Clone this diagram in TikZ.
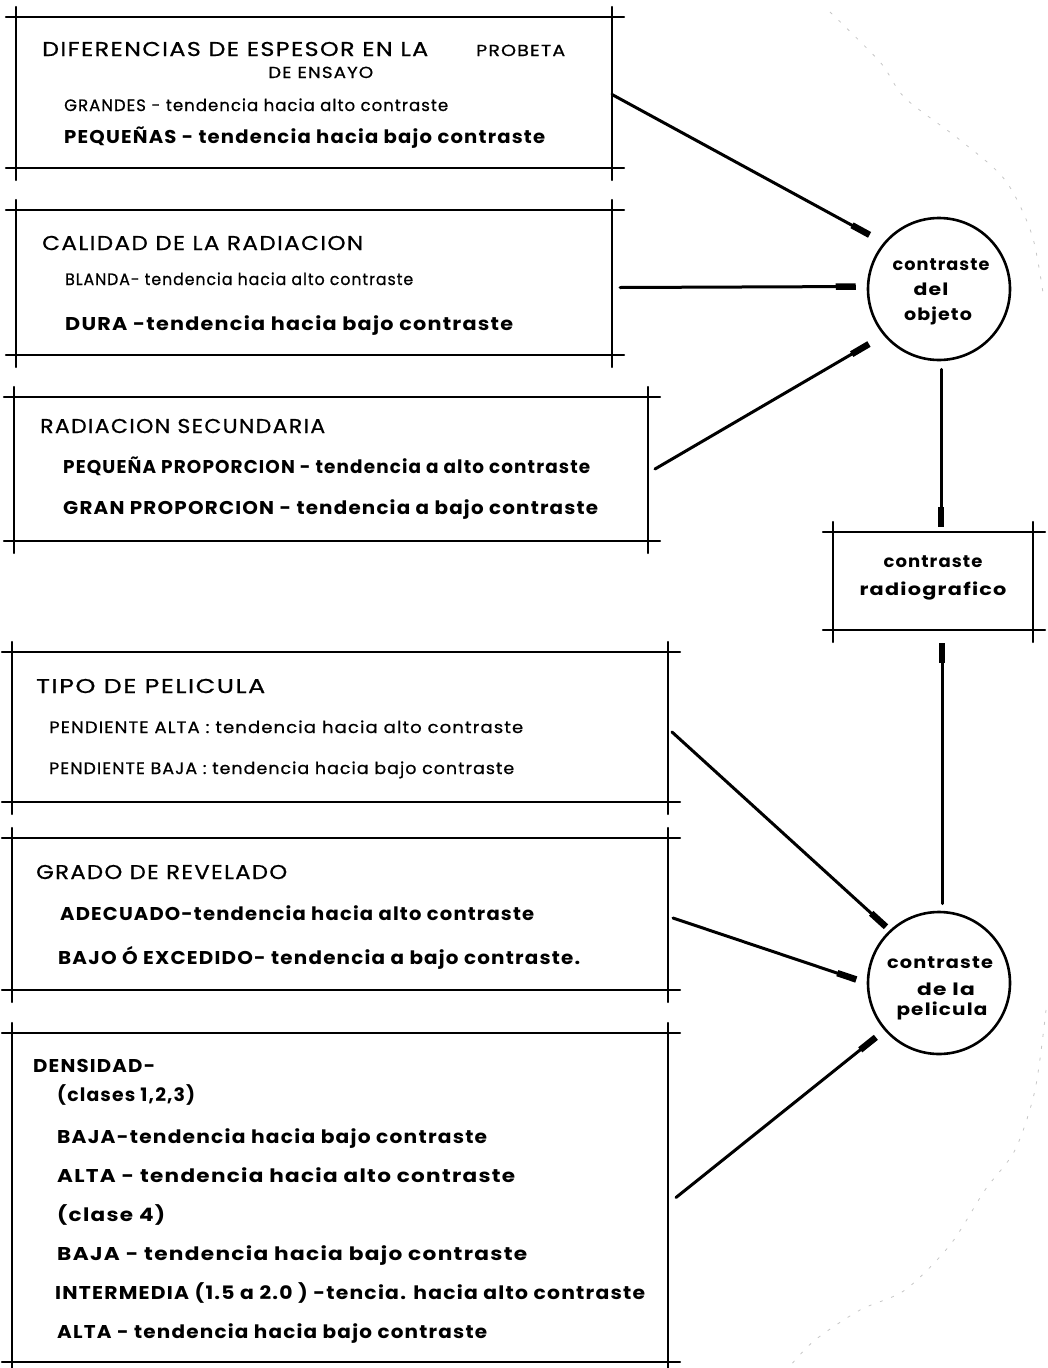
\documentclass[tikz,border=0pt]{standalone}
\usepackage{fontspec}
\setmainfont{Poppins}[LetterSpace=6]
\newfontfamily\medf{Poppins}[LetterSpace=6, FakeBold=0.7]
\usepackage{graphicx}
\usetikzlibrary{arrows.meta,calc}
\newlength\fitlen
\newcommand\fitw[2]{\settowidth\fitlen{#2}\scalebox{\fpeval{(#1pt)/(\the\fitlen)}}[1]{#2}}
\newcommand\crosses[1]{%
  \draw[frameline] ([xshift=-10pt]#1.north west) -- ([xshift=12pt]#1.north east)
    ([xshift=-10pt]#1.south west) -- ([xshift=12pt]#1.south east)
    ([yshift=10pt]#1.north west) -- ([yshift=-12pt]#1.south west)
    ([yshift=10pt]#1.north east) -- ([yshift=-12pt]#1.south east);}
\tikzset{
  frameline/.style={line width=2.4pt, line cap=round},
  frame/.style={draw, line width=2.4pt, inner sep=0pt, outer sep=0pt},
  ring/.style={draw, circle, line width=2.6pt, inner sep=0pt, minimum size=142pt},
  conn/.style={line width=3pt, line cap=round, -{Rectangle[length=20pt,width=6.5pt]}},
  txt/.style={anchor=base west, inner sep=0pt, font=\medf\fontsize{20}{22}\selectfont},
  sm/.style={txt, font=\medf\fontsize{16.5}{18}\selectfont},
  bt/.style={txt, font=\fontsize{18.5}{20}\selectfont\bfseries},
  ctxt/.style={anchor=base, inner sep=0pt, font=\fontsize{17}{19}\selectfont\bfseries},
  ghost/.style={gray!45, line width=0.8pt, dash pattern=on 3pt off 9pt}
}
\begin{document}
\begin{tikzpicture}[x=1pt,y=-1pt]
\useasboundingbox (0,0) rectangle (1047,1368);
% faint arc (scan artefact)
\draw[ghost] plot[smooth] coordinates {(830,12) (880,62) (905,98) (960,140) (1005,180) (1032,235) (1044,300)};
\draw[ghost] plot[smooth] coordinates {(1046,1010) (1035,1090) (1015,1150) (985,1190) (950,1245) (905,1290) (860,1310) (815,1340) (790,1366)};
% boxes
\node[frame, minimum width=596pt, minimum height=151pt] (b1) at (314,92.5) {};
\node[frame, minimum width=596pt, minimum height=145pt] (b2) at (314,282.5) {};
\node[frame, minimum width=634pt, minimum height=144pt] (b3) at (331,469) {};
\node[frame, minimum width=200pt, minimum height=98pt] (rb) at (933,581) {};
\node[frame, minimum width=656pt, minimum height=150pt] (b4) at (340,727) {};
\node[frame, minimum width=656pt, minimum height=152pt] (b5) at (340,914) {};
\node[frame, minimum width=656pt, minimum height=329pt] (b6) at (340,1197.5) {};
\crosses{b1}\crosses{b2}\crosses{b3}\crosses{rb}\crosses{b4}\crosses{b5}\crosses{b6}
% circles
\node[ring] (c1) at (939,289) {};
\node[ring] (c2) at (939,983) {};
% texts box 1
\node[txt] (t1a) at (42,56) {\fitw{386}{DIFERENCIAS DE ESPESOR EN LA}};
\node[txt, font=\medf\fontsize{16}{18}\selectfont] (t1b) at (476,56) {\fitw{89}{PROBETA}};
\node[txt, font=\medf\fontsize{16}{18}\selectfont] (t1c) at (268,78) {\fitw{105}{DE ENSAYO}};
\node[sm] (t1d) at (64,111) {\fitw{384}{GRANDES - tendencia hacia alto contraste}};
\node[bt] (t1e) at (64,143) {\fitw{481}{PEQUEÑAS - tendencia hacia bajo contraste}};
% box 2
\node[txt] (t2a) at (42,250) {\fitw{321}{CALIDAD DE LA RADIACION}};
\node[sm] (t2b) at (65,285) {\fitw{348}{BLANDA- tendencia hacia alto contraste}};
\node[bt] (t2c) at (65,330) {\fitw{448}{DURA -tendencia hacia bajo contraste}};
% box 3
\node[txt] (t3a) at (40,433) {\fitw{285}{RADIACION SECUNDARIA}};
\node[bt] (t3b) at (63,473) {\fitw{527}{PEQUEÑA PROPORCION - tendencia a alto contraste}};
\node[bt] (t3c) at (63,514) {\fitw{535}{GRAN PROPORCION - tendencia a bajo contraste}};
% radiografico
\node[ctxt] (r1) at (933,567) {\fitw{99}{contraste}};
\node[ctxt] (r2) at (933,595) {\fitw{147}{radiografico}};
% circle texts
\node[ctxt] (o1) at (941,270) {\fitw{97}{contraste}};
\node[ctxt] (o2) at (931,295) {\fitw{35}{del}};
\node[ctxt] (o3) at (938,320) {\fitw{68}{objeto}};
\node[ctxt] (p1) at (940,968) {\fitw{106}{contraste}};
\node[ctxt] (p2) at (946,995) {\fitw{58}{de la}};
\node[ctxt] (p3) at (942,1015) {\fitw{91}{pelicula}};
% box 4
\node[txt] (t4a) at (36,693) {\fitw{229}{TIPO DE PELICULA}};
\node[sm] (t4b) at (49,733) {\fitw{474}{PENDIENTE ALTA : tendencia hacia alto contraste}};
\node[sm] (t4c) at (49,774) {\fitw{465}{PENDIENTE BAJA : tendencia hacia bajo contraste}};
% box 5
\node[txt] (t5a) at (36,879) {\fitw{251}{GRADO DE REVELADO}};
\node[bt] (t5b) at (60,920) {\fitw{474}{ADECUADO-tendencia hacia alto contraste}};
\node[bt] (t5c) at (58,964) {\fitw{522}{BAJO Ó EXCEDIDO- tendencia a bajo contraste.}};
% box 6
\node[bt] (t6a) at (33,1072) {\fitw{122}{DENSIDAD-}};
\node[bt] (t6b) at (57,1101) {\fitw{138}{(clases 1,2,3)}};
\node[bt] (t6c) at (57,1143) {\fitw{430}{BAJA-tendencia hacia bajo contraste}};
\node[bt] (t6d) at (57,1182) {\fitw{458}{ALTA - tendencia hacia alto contraste}};
\node[bt] (t6e) at (57,1221) {\fitw{108}{(clase 4)}};
\node[bt] (t6f) at (57,1260) {\fitw{470}{BAJA - tendencia hacia bajo contraste}};
\node[bt] (t6g) at (55,1299) {\fitw{590}{INTERMEDIA (1.5 a 2.0 ) -tencia. hacia alto contraste}};
\node[bt] (t6h) at (57,1338) {\fitw{430}{ALTA - tendencia hacia bajo contraste}};
% connectors
\draw[conn, shorten >=16pt] ([yshift=-2pt]b1.east) -- (c1.140);
\draw[conn, shorten >=11pt] ([xshift=8pt,yshift=-5pt]b2.east) -- (c1.178);
\draw[conn, shorten >=17pt] ([xshift=7pt]b3.east) -- (c1.220);
\draw[conn, shorten <=8pt, shorten >=5pt] ([xshift=2pt]c1.south) -- ([xshift=2pt]c1.south |- rb.north);
\draw[conn, shorten <=7pt, shorten >=13pt] ([xshift=3pt]c2.north) -- ([xshift=3pt]c2.north |- rb.south);
\draw[conn, shorten >=5pt] ([xshift=4pt,yshift=-5pt]b4.east) -- (c2.133);
\draw[conn, shorten >=11pt] ([xshift=5pt,yshift=-4pt]b5.east) -- (c2.180);
\draw[conn, shorten >=11pt] ([xshift=8pt]b6.east) -- (c2.221);
\end{tikzpicture}
\end{document}
